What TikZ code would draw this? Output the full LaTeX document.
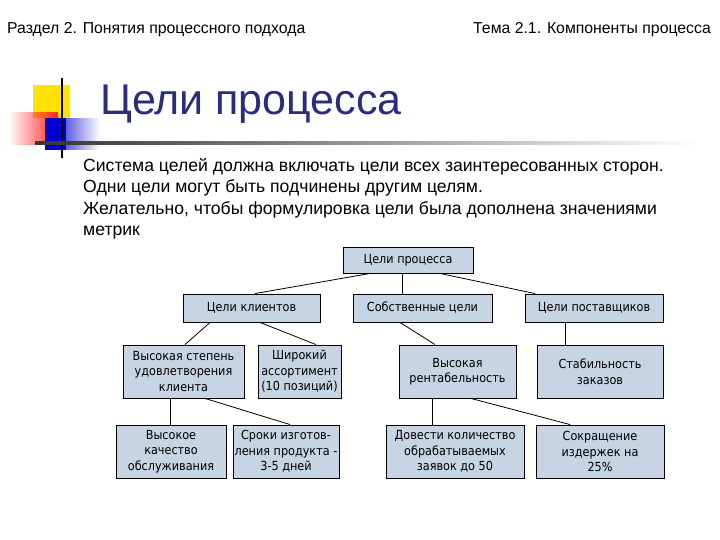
\documentclass[tikz,border=0pt]{standalone}
\usepackage{fontspec}
\setmainfont{Liberation Sans}
\newfontfamily\boxfont{DejaVu Sans Condensed}
\usetikzlibrary{fadings}
\definecolor{boxfill}{HTML}{C6D4E3}
\definecolor{titleblue}{HTML}{2B2B80}
\tikzset{gb/.style={draw=black,fill=boxfill,line width=0.9pt,align=center,font=\boxfont\fontsize{12.5}{15.5}\selectfont,inner sep=0pt},
ln/.style={line width=0.8pt}}
\begin{document}
\begin{tikzpicture}[x=1pt,y=-1pt]
\useasboundingbox (0,0) rectangle (720,540);
\fill[white] (0,0) rectangle (720,540);
\node[anchor=west,font=\fontsize{15.8}{17}\selectfont,inner sep=0pt] (h1) at (7,30) {Раздел 2. Понятия процессного подхода};
\node[anchor=east,font=\fontsize{15.8}{17}\selectfont,inner sep=0pt] (h2) at (711,30) {Тема 2.1. Компоненты процесса};
% decoration
\fill[yellow!85!orange] (33,85) rectangle (70,118);
\fill[red!85,path fading=west] (8,112) rectangle (58,145);
\fill[blue!80!black,path fading=east] (45,118) rectangle (100,150);
\fill[blue!80!black] (45,118) rectangle (66,150);
\draw[line width=1.5pt] (62,78) -- (62,158);
\shade[left color=black!80,right color=white] (35,142) rectangle (700,144.5);
\node[anchor=west,text=titleblue,font=\fontsize{43}{48}\selectfont,inner sep=0pt] (t) at (100,104) {Цели процесса};
\node[anchor=north west,align=left,font=\fontsize{17.6}{21.5}\selectfont,inner sep=0pt] (body) at (83,158) {Система целей должна включать цели всех заинтересованных сторон.\\Одни цели могут быть подчинены другим целям.\\Желательно, чтобы формулировка цели была дополнена значениями\\метрик};
% boxes
\node[gb,minimum width=130,minimum height=26] (a) at (408,260) {Цели процесса};
\node[gb,minimum width=137,minimum height=28] (b1) at (251.5,308) {Цели клиентов};
\node[gb,minimum width=139,minimum height=28] (b2) at (422.5,308) {Собственные цели};
\node[gb,minimum width=138,minimum height=28] (b3) at (594,308) {Цели поставщиков};
\node[gb,minimum width=121,minimum height=53] (c1) at (183.5,371.5) {Высокая степень\\удовлетворения\\клиента};
\node[gb,minimum width=83,minimum height=53] (c2) at (299.5,371.5) {Широкий\\ассортимент\\(10 позиций)};
\node[gb,minimum width=117,minimum height=53] (c3) at (457.5,371.5) {Высокая\\рентабельность};
\node[gb,minimum width=126,minimum height=53] (c4) at (600,371.5) {Стабильность\\заказов};
\node[gb,minimum width=110,minimum height=53] (d1) at (171,451.5) {Высокое\\качество\\обслуживания};
\node[gb,minimum width=106,minimum height=53] (d2) at (286,451.5) {Сроки изготов-\\ления продукта -\\3-5 дней};
\node[gb,minimum width=138,minimum height=53] (d3) at (455,451.5) {Довести количество\\обрабатываемых\\заявок до 50};
\node[gb,minimum width=128,minimum height=53] (d4) at (600,451.5) {Сокращение\\издержек на\\25\%};
% connectors
\draw[ln] ([xshift=-38]a.south) -- ([xshift=3.5]b1.north);
\draw[ln] ([xshift=-6]a.south) -- ([xshift=-20.5]b2.north);
\draw[ln] ([xshift=32]a.south) -- ([xshift=-59]b3.north);
\draw[ln] ([xshift=-41.5]b1.south) -- ([xshift=1.5]c1.north);
\draw[ln] ([xshift=8.5]b1.south) -- ([xshift=16.5]c2.north);
\draw[ln] ([xshift=-22.5]b2.south) -- ([xshift=-22.5]c3.north);
\draw[ln] ([xshift=-29]b3.south) -- ([xshift=-35]c4.north);
\draw[ln] ([xshift=-13.5]c1.south) -- ([xshift=-1]d1.north);
\draw[ln] ([xshift=21.5]c1.south) -- ([xshift=4]d2.north);
\draw[ln] ([xshift=-25.5]c3.south) -- ([xshift=-23]d3.north);
\draw[ln] ([xshift=13.5]c3.south) -- ([xshift=-30]d4.north);
\end{tikzpicture}
\end{document}
